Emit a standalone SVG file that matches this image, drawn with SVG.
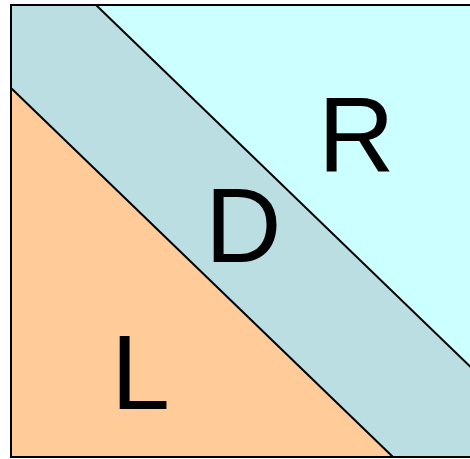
<svg xmlns="http://www.w3.org/2000/svg" width="470" height="459" viewBox="0 0 470 459">
<style>
.lbl{font-family:"Liberation Sans",Arial,sans-serif;font-size:106px;fill:#000}
.ln{stroke:#000;stroke-width:2;fill:none}
</style>
<rect width="470" height="459" fill="#fff"/>
<g id="D">
<rect x="11" y="5" width="470" height="452" fill="#BADEE2"/>
<text class="lbl" x="205" y="262">D</text>
</g>
<g id="R">
<polygon points="96,5 480,5 480,376" fill="#CCFFFF"/>
<text class="lbl" x="318" y="171">R</text>
</g>
<g id="L">
<polygon points="11,88 393,457 11,457" fill="#FFCC99"/>
<text class="lbl" x="111" y="409">L</text>
</g>
<g id="connectors">
<line class="ln" x1="96" y1="5" x2="480" y2="376"/>
<line class="ln" x1="11" y1="88" x2="393" y2="457"/>
<path class="ln" d="M480,5 H11 V457 H480"/>
</g>
</svg>
